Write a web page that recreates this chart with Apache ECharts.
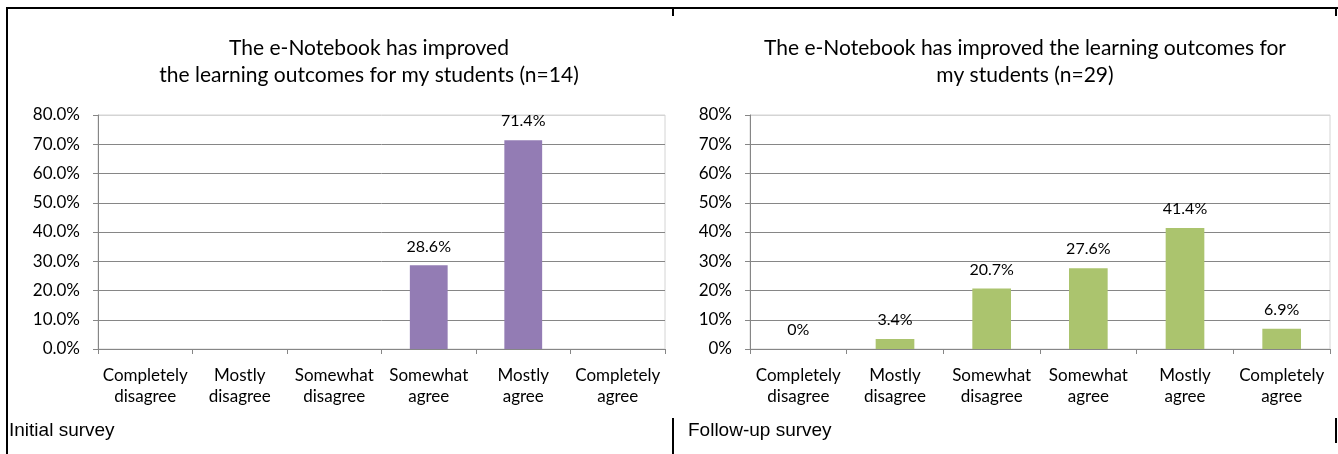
<!DOCTYPE html>
<html>
<head>
<meta charset="utf-8">
<script src="https://cdn.jsdelivr.net/npm/echarts@6/dist/echarts.min.js"></script>
<style>
html,body{margin:0;padding:0;background:#fff;}
#chart{width:1338px;height:454px;}
</style>
</head>
<body>
<div id="chart"></div>
<script>
var categories = ['Completely\ndisagree','Mostly\ndisagree','Somewhat\ndisagree','Somewhat\nagree','Mostly\nagree','Completely\nagree'];
var initialValues = [0, 0, 0, 28.6, 71.4, 0];
var followupValues = [0, 3.4, 20.7, 27.6, 41.4, 6.9];
var titleInitial = 'The e-Notebook has improved\nthe learning outcomes for my students (n=14)';
var titleFollowup = 'The e-Notebook has improved the learning outcomes for\nmy students (n=29)';
var panelInitial = 'Initial survey';
var panelFollowup = 'Follow-up survey';

var FONT = 'Lato';
var gridColors = ['#868686','#868686','#868686','#868686','#868686','#868686','#868686','#868686','#d4d4d4'];

function xAxis(idx){
  return {
    type:'category', gridIndex:idx, data:categories,
    axisLine:{lineStyle:{color:'#868686',width:1}},
    axisTick:{show:true,length:5,lineStyle:{color:'#868686'}},
    axisLabel:{color:'#000',fontFamily:FONT,fontSize:17,lineHeight:21,margin:16,interval:0}
  };
}
function yAxis(idx, fmt){
  return {
    type:'value', gridIndex:idx, min:0, max:80, interval:10,
    axisLine:{show:true,lineStyle:{color:'#868686',width:1}},
    axisTick:{show:true,length:5,lineStyle:{color:'#868686'}},
    splitLine:{show:true,lineStyle:{color:gridColors,width:1}},
    axisLabel:{color:'#000',fontFamily:FONT,fontSize:17,margin:18,formatter:fmt}
  };
}

var chart = echarts.init(document.getElementById('chart'), null, {renderer:'canvas'});
chart.setOption({
  animation:false,
  backgroundColor:'#fff',
  title:[
    {text:titleInitial,left:364,top:30,textAlign:'center',
     textStyle:{fontFamily:FONT,fontSize:21,fontWeight:'normal',color:'#000',lineHeight:27}},
    {text:titleFollowup,left:1020,top:30,textAlign:'center',
     textStyle:{fontFamily:FONT,fontSize:21,fontWeight:'normal',color:'#000',lineHeight:27}}
  ],
  grid:[
    {left:98,right:673,top:115,bottom:105,show:true,borderColor:'#d4d4d4',borderWidth:1,backgroundColor:'transparent'},
    {left:750,right:8,top:115,bottom:105,show:true,borderColor:'#d4d4d4',borderWidth:1,backgroundColor:'transparent'}
  ],
  xAxis:[xAxis(0), xAxis(1)],
  yAxis:[
    yAxis(0,function(v){return v.toFixed(1)+'%';}),
    yAxis(1,function(v){return v+'%';})
  ],
  series:[
    {type:'bar',xAxisIndex:0,yAxisIndex:0,data:initialValues,barWidth:'40%',
     itemStyle:{color:'#937cb4'},
     label:{show:true,position:'top',distance:11,color:'#000',fontFamily:FONT,fontSize:16,
       formatter:function(p){return p.value===0?'':p.value.toFixed(1)+'%';}}},
    {type:'bar',xAxisIndex:1,yAxisIndex:1,data:followupValues,barWidth:'40%',
     itemStyle:{color:'#abc46e'},
     label:{show:true,position:'top',distance:11,color:'#000',fontFamily:FONT,fontSize:16,
       formatter:function(p){return p.value===0?'0%':p.value.toFixed(1)+'%';}}}
  ],
  graphic:[
    {type:'line',shape:{x1:6,y1:8,x2:1338,y2:8},style:{stroke:'#000',lineWidth:2}},
    {type:'line',shape:{x1:7,y1:7,x2:7,y2:454},style:{stroke:'#000',lineWidth:2}},
    {type:'line',shape:{x1:673,y1:7,x2:673,y2:16},style:{stroke:'#000',lineWidth:2}},
    {type:'line',shape:{x1:673,y1:418,x2:673,y2:454},style:{stroke:'#000',lineWidth:2}},
    {type:'line',shape:{x1:1336,y1:7,x2:1336,y2:16},style:{stroke:'#000',lineWidth:2}},
    {type:'line',shape:{x1:1336,y1:418,x2:1336,y2:443},style:{stroke:'#000',lineWidth:2}},
    {type:'text',left:9,top:421,style:{text:panelInitial,fontFamily:'Liberation Sans',fontSize:19,fill:'#000'}},
    {type:'text',left:688,top:421,style:{text:panelFollowup,fontFamily:'Liberation Sans',fontSize:19,fill:'#000'}}
  ]
});
</script>
</body>
</html>
